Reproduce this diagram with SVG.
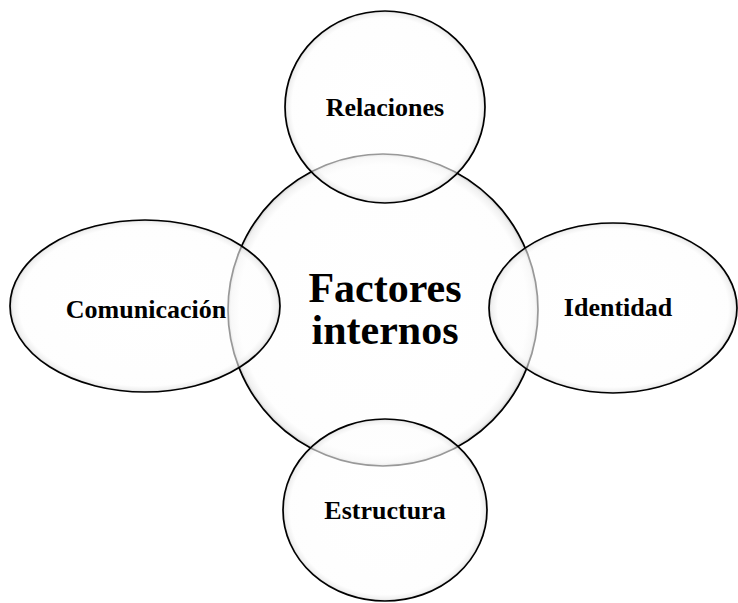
<svg xmlns="http://www.w3.org/2000/svg" width="738" height="603" viewBox="0 0 738 603">
<style>
.shape{fill:url(#glow);stroke:#000;stroke-width:1.7}
.lbl{font-family:"Liberation Serif","Times New Roman",serif;font-weight:bold;fill:#000;text-anchor:middle}
.sm{font-size:26px}
.big{font-size:42px}
</style>
<defs>
<radialGradient id="glow" cx="0.5" cy="0.5" r="0.5">
<stop offset="0" stop-color="#ffffff" stop-opacity="0.6"/>
<stop offset="0.93" stop-color="#fdfdfd" stop-opacity="0.6"/>
<stop offset="0.98" stop-color="#e6e6e6" stop-opacity="0.6"/>
<stop offset="1" stop-color="#b0b0b0" stop-opacity="0.7"/>
</radialGradient>
</defs>
<rect width="738" height="603" fill="#fff"/>
<g id="factores">
<ellipse class="shape" cx="383" cy="310" rx="155" ry="156"/>
</g>
<g id="relaciones">
<ellipse class="shape" cx="385" cy="107" rx="100" ry="96"/>
</g>
<g id="comunicacion">
<ellipse class="shape" cx="145" cy="306" rx="135" ry="86"/>
</g>
<g id="identidad">
<ellipse class="shape" cx="613" cy="308" rx="124" ry="85"/>
</g>
<g id="estructura">
<ellipse class="shape" cx="385" cy="510" rx="102" ry="91"/>
</g>
<g id="labels">
<text class="lbl sm" x="385" y="116">Relaciones</text>
<text class="lbl sm" x="146" y="318">Comunicación</text>
<text class="lbl sm" x="618" y="316">Identidad</text>
<text class="lbl sm" x="385" y="519">Estructura</text>
<text class="lbl big" x="385" y="302">Factores</text>
<text class="lbl big" x="385" y="344">internos</text>
</g>
</svg>
